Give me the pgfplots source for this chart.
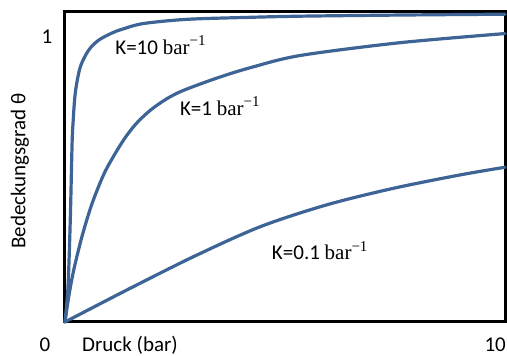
\documentclass[border=0pt]{standalone}
\usepackage{pgfplots}
\pgfplotsset{compat=1.18}
\usepackage[no-math]{fontspec}
\setmainfont{Carlito}
\newfontfamily\unitfont{Liberation Serif}
\newcommand{\perbar}{{\unitfont bar\raisebox{0.42em}{\fontsize{15}{15}\selectfont −1}}}
\definecolor{isoblue}{RGB}{62,100,150}

\begin{document}
\begin{tikzpicture}[x=1pt,y=1pt]
\useasboundingbox (-65,-34) rectangle (442,322);
\begin{axis}[
  at={(0,0)}, anchor=south west,
  scale only axis, width=440pt, height=310pt,
  xmin=0, xmax=10, ymin=0, ymax=1.0877,
  axis line style={black, line width=3pt},
  xtick=\empty, ytick=\empty,
  clip=false,
  font=\fontsize{21}{25}\selectfont,
]
\pgfplotsset{iso/.style={isoblue, line width=3.2pt, smooth, line cap=round, mark=none}}
% K = 10 bar^-1
\addplot[iso] coordinates {
  (0,0) (0.068,0.123) (0.12,0.358) (0.16,0.62) (0.18,0.691) (0.234,0.804)
  (0.348,0.895) (0.539,0.954) (0.766,0.989) (1.068,1.014) (1.295,1.027)
  (1.773,1.047) (2.773,1.062) (4.2,1.069) (5.34,1.073) (7.61,1.077) (10,1.080)
};
% K = 1 bar^-1
\addplot[iso] coordinates {
  (0,0) (0.084,0.088) (0.198,0.182) (0.386,0.300) (0.614,0.415) (0.909,0.527)
  (1.295,0.630) (1.6,0.693) (1.932,0.742) (2.3,0.782) (2.682,0.812)
  (3.455,0.856) (4.205,0.892) (5.341,0.935) (7.614,0.980) (10,1.012)
};
% K = 0.1 bar^-1
\addplot[iso] coordinates {
  (0,0) (1.402,0.112) (2.917,0.229) (4.432,0.334) (5.947,0.411)
  (7.462,0.469) (8.977,0.516) (10,0.543)
};
\node[anchor=base west, inner sep=0pt] at (axis cs:1.14,0.94) {K=10 \perbar};
\node[anchor=base west, inner sep=0pt] at (axis cs:2.61,0.726) {K=1 \perbar};
\node[anchor=base west, inner sep=0pt] at (axis cs:4.70,0.218) {K=0.1 \perbar};
\end{axis}
\begin{scope}[font=\fontsize{21}{25}\selectfont]
\node at (-20,-23) {0};
\node at (-18,285) {1};
\node[anchor=west, inner sep=0pt] at (17,-23) {Druck (bar)};
\node[anchor=east, inner sep=0pt] at (441,-23) {10};
\node[rotate=90] at (-45,151) {Bedeckungsgrad θ};
\end{scope}
\end{tikzpicture}
\end{document}
